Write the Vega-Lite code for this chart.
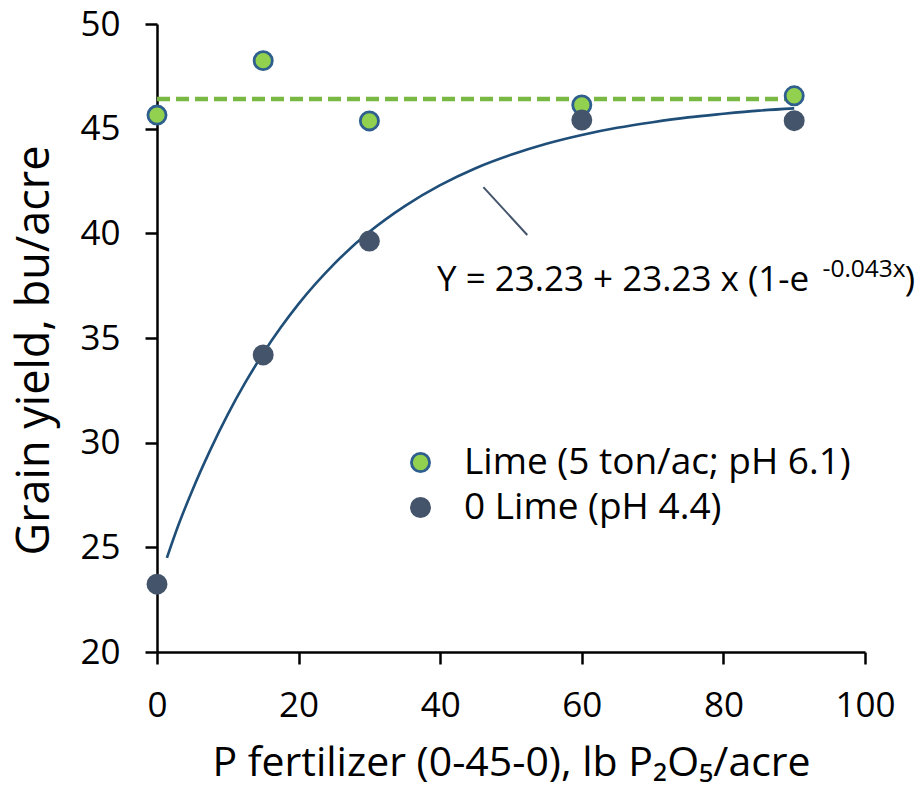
{
  "$schema": "https://vega.github.io/schema/vega-lite/v6.json",
  "width": 708,
  "height": 628,
  "autosize": "none",
  "padding": {"left": 157, "top": 24, "right": 54, "bottom": 139},
  "background": "white",
  "config": {
    "view": {"stroke": null},
    "font": "Open Sans",
    "axis": {
      "grid": false,
      "labelFlush": false,
      "domainColor": "black",
      "domainWidth": 2.5,
      "tickColor": "black",
      "tickWidth": 2.5,
      "tickSize": 12,
      "labelFont": "Open Sans",
      "labelFontSize": 35,
      "labelColor": "black",
      "titleFont": "Open Sans",
      "titleColor": "black",
      "titleFontWeight": "normal"
    },
    "legend": {
      "labelFont": "Open Sans",
      "labelFontSize": 37,
      "labelColor": "black",
      "labelLimit": 800
    }
  },
  "layer": [
    {
      "data": {"values": [{"x": 0, "x2": 90, "y": 46.42}]},
      "mark": {"type": "rule", "color": "#78b843", "strokeWidth": 4.5, "strokeDash": [13, 6]},
      "encoding": {
        "x": {"field": "x", "type": "quantitative", "scale": {"domain": [0, 100]}},
        "x2": {"field": "x2"},
        "y": {"field": "y", "type": "quantitative", "scale": {"domain": [20, 50]}}
      }
    },
    {
      "data": {"values": [
        {"x": 1.4, "y": 24.5}, {"x": 3, "y": 26.04}, {"x": 5, "y": 27.73}, {"x": 7.5, "y": 29.63},
        {"x": 10, "y": 31.35}, {"x": 12.5, "y": 32.89}, {"x": 15, "y": 34.27}, {"x": 17.5, "y": 35.51},
        {"x": 20, "y": 36.63}, {"x": 25, "y": 38.53}, {"x": 30, "y": 40.07}, {"x": 35, "y": 41.3},
        {"x": 40, "y": 42.3}, {"x": 45, "y": 43.11}, {"x": 50, "y": 43.75}, {"x": 55, "y": 44.28},
        {"x": 60, "y": 44.7}, {"x": 65, "y": 45.04}, {"x": 70, "y": 45.31}, {"x": 75, "y": 45.54},
        {"x": 80, "y": 45.71}, {"x": 85, "y": 45.86}, {"x": 90, "y": 45.97}
      ]},
      "mark": {"type": "line", "color": "#1f4e79", "strokeWidth": 2.6, "interpolate": "monotone"},
      "encoding": {
        "x": {"field": "x", "type": "quantitative"},
        "y": {"field": "y", "type": "quantitative"}
      }
    },
    {
      "data": {"values": [{"x": 46.1, "y": 42.21, "x2": 52.3, "y2": 39.92}]},
      "mark": {"type": "rule", "color": "#44546a", "strokeWidth": 2},
      "encoding": {
        "x": {"field": "x", "type": "quantitative"},
        "y": {"field": "y", "type": "quantitative"},
        "x2": {"field": "x2"},
        "y2": {"field": "y2"}
      }
    },
    {
      "data": {"values": [
        {"x": 0, "y": 45.65, "s": "Lime (5 ton/ac; pH 6.1)"},
        {"x": 15, "y": 48.25, "s": "Lime (5 ton/ac; pH 6.1)"},
        {"x": 30, "y": 45.37, "s": "Lime (5 ton/ac; pH 6.1)"},
        {"x": 60, "y": 46.13, "s": "Lime (5 ton/ac; pH 6.1)"},
        {"x": 90, "y": 46.57, "s": "Lime (5 ton/ac; pH 6.1)"},
        {"x": 0, "y": 23.24, "s": "0 Lime (pH 4.4)"},
        {"x": 15, "y": 34.19, "s": "0 Lime (pH 4.4)"},
        {"x": 30, "y": 39.63, "s": "0 Lime (pH 4.4)"},
        {"x": 60, "y": 45.41, "s": "0 Lime (pH 4.4)"},
        {"x": 90, "y": 45.38, "s": "0 Lime (pH 4.4)"}
      ]},
      "mark": {"type": "point", "filled": true, "shape": "circle", "size": 330, "strokeWidth": 2.8, "opacity": 1},
      "encoding": {
        "x": {
          "field": "x", "type": "quantitative",
          "axis": {
            "values": [0, 20, 40, 60, 80, 100],
            "labelPadding": 24,
            "title": "P fertilizer (0-45-0), lb P₂O₅/acre",
            "titleFontSize": 41,
            "titlePadding": 20
          }
        },
        "y": {
          "field": "y", "type": "quantitative",
          "axis": {
            "values": [20, 25, 30, 35, 40, 45, 50],
            "labelPadding": 25,
            "title": "Grain yield, bu/acre",
            "titleFontSize": 45,
            "titlePadding": 22,
            "titleY": 326
          }
        },
        "fill": {
          "field": "s", "type": "nominal",
          "scale": {"domain": ["Lime (5 ton/ac; pH 6.1)", "0 Lime (pH 4.4)"], "range": ["#92d050", "#44546a"]},
          "legend": {"title": null, "orient": "none", "legendX": 245, "legendY": 420, "padding": 0, "symbolSize": 330, "symbolStrokeWidth": 2.8, "labelOffset": 25, "rowPadding": 7, "symbolType": "circle", "labelLimit": 800}
        },
        "stroke": {
          "field": "s", "type": "nominal",
          "scale": {"domain": ["Lime (5 ton/ac; pH 6.1)", "0 Lime (pH 4.4)"], "range": ["#2e5f8e", "#44546a"]},
          "legend": {"title": null, "orient": "none", "legendX": 245, "legendY": 420, "padding": 0, "symbolSize": 330, "symbolStrokeWidth": 2.8, "labelOffset": 25, "rowPadding": 7, "symbolType": "circle", "labelLimit": 800}
        }
      }
    },
    {
      "data": {"values": [{"x": 39.55, "y": 37.24, "t": "Y = 23.23 + 23.23 x (1-e"}, {"x": 105.6, "y": 37.24, "t": ")"}]},
      "mark": {"type": "text", "align": "left", "baseline": "alphabetic", "fontSize": 35, "font": "Open Sans", "color": "black"},
      "encoding": {
        "x": {"field": "x", "type": "quantitative"},
        "y": {"field": "y", "type": "quantitative"},
        "text": {"field": "t"}
      }
    },
    {
      "data": {"values": [{"x": 94.0, "y": 37.91, "t": "-0.043x"}]},
      "mark": {"type": "text", "align": "left", "baseline": "alphabetic", "fontSize": 24.5, "font": "Open Sans", "color": "black"},
      "encoding": {
        "x": {"field": "x", "type": "quantitative"},
        "y": {"field": "y", "type": "quantitative"},
        "text": {"field": "t"}
      }
    }
  ]
}
